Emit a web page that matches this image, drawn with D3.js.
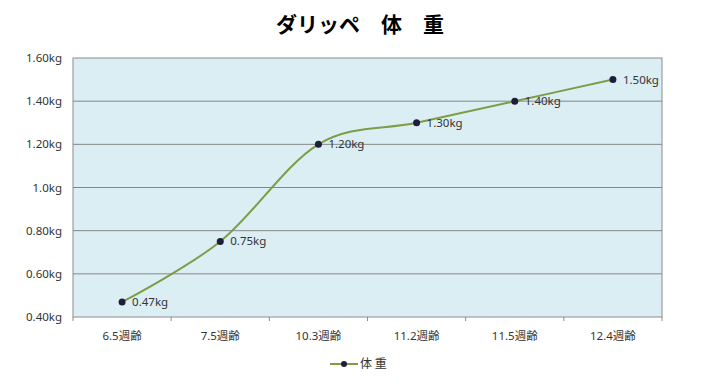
<!DOCTYPE html>
<html>
<head>
<meta charset="utf-8">
<script src="https://cdn.jsdelivr.net/npm/d3@7"></script>
<style>
  body { margin: 0; background: #fff; }
  text { font-family: "Noto Sans", "Noto Sans CJK JP", sans-serif; fill: #333; }
</style>
</head>
<body>
<div id="viz"></div>
<script>
  var categories = ["6.5週齢", "7.5週齢", "10.3週齢", "11.2週齢", "11.5週齢", "12.4週齢"];
  var weights = [0.47, 0.75, 1.20, 1.30, 1.40, 1.50];
  var yTicks = [0.4, 0.6, 0.8, 1.0, 1.2, 1.4, 1.6];
  var yTickLabels = ["0.40kg", "0.60kg", "0.80kg", "1.0kg", "1.20kg", "1.40kg", "1.60kg"];
  var seriesName = "体 重";
  var title = "ダリッペ　体　重";

  var svg = d3.select("#viz").append("svg")
    .attr("width", 720).attr("height", 384);

  var plotL = 73, plotR = 662, plotT = 58, plotB = 317;

  var x = d3.scaleBand().domain(categories).range([plotL, plotR]);
  var y = d3.scaleLinear().domain([0.4, 1.6]).range([plotB, plotT]);

  // plot background
  svg.append("rect")
    .attr("x", plotL).attr("y", plotT)
    .attr("width", plotR - plotL).attr("height", plotB - plotT)
    .style("fill", "#dbeef4").style("stroke", "#8c8c8c");

  // gridlines
  svg.selectAll("line.grid").data(yTicks.slice(1, -1)).enter()
    .append("line").attr("class", "grid")
    .attr("x1", plotL).attr("x2", plotR)
    .attr("y1", function (d) { return y(d); })
    .attr("y2", function (d) { return y(d); })
    .style("stroke", "#868686").style("stroke-width", 1);

  // y axis labels
  svg.selectAll("text.ylab").data(yTicks).enter()
    .append("text").attr("class", "ylab")
    .attr("x", plotL - 11)
    .attr("y", function (d) { return y(d) + 4; })
    .attr("text-anchor", "end")
    .style("font-size", "11.5px")
    .text(function (d, i) { return yTickLabels[i]; });

  // x axis
  var xAxis = d3.axisBottom(x).tickSize(0);
  var gx = svg.append("g").attr("transform", "translate(0," + plotB + ")").call(xAxis);
  gx.select(".domain").remove();
  gx.selectAll("text").attr("dy", "1.7em").style("font-size", "11.5px").style("fill", "#333")
    .style("font-family", "\"Noto Sans\", \"Noto Sans CJK JP\", sans-serif");
  var boundaries = categories.map(function (c) { return x(c); }).concat([plotR]);
  svg.selectAll("line.xtick").data(boundaries).enter()
    .append("line").attr("class", "xtick")
    .attr("x1", function (d) { return d; }).attr("x2", function (d) { return d; })
    .attr("y1", plotB).attr("y2", plotB + 4)
    .style("stroke", "#8c8c8c");

  // line
  var line = d3.line()
    .x(function (d, i) { return x(categories[i]) + x.bandwidth() / 2; })
    .y(function (d) { return y(d); })
    .curve(d3.curveCardinal.tension(0));

  svg.append("path").datum(weights)
    .attr("d", line)
    .style("fill", "none").style("stroke", "#7e9c45").style("stroke-width", 2);

  svg.selectAll("circle.pt").data(weights).enter()
    .append("circle").attr("class", "pt")
    .attr("cx", function (d, i) { return x(categories[i]) + x.bandwidth() / 2; })
    .attr("cy", function (d) { return y(d); })
    .attr("r", 3.5)
    .style("fill", "#1e1e3c");

  svg.selectAll("text.val").data(weights).enter()
    .append("text").attr("class", "val")
    .attr("x", function (d, i) { return x(categories[i]) + x.bandwidth() / 2 + 10; })
    .attr("y", function (d) { return y(d) + 4; })
    .style("font-size", "11.5px")
    .text(function (d) { return d.toFixed(2) + "kg"; });

  // title
  svg.append("text")
    .attr("x", 360).attr("y", 32)
    .attr("text-anchor", "middle")
    .style("font-family", "\"Noto Sans CJK JP\", sans-serif")
    .style("font-weight", "bold")
    .style("font-size", "21px")
    .style("fill", "#000")
    .text(title);

  // legend
  var lg = svg.append("g").attr("transform", "translate(330,364)");
  lg.append("line").attr("x1", 0).attr("x2", 28).attr("y1", 0).attr("y2", 0)
    .style("stroke", "#7e9c45").style("stroke-width", 2);
  lg.append("circle").attr("cx", 14).attr("cy", 0).attr("r", 3).style("fill", "#1e1e3c");
  lg.append("text").attr("x", 30).attr("y", 4)
    .style("font-size", "12px")
    .style("font-family", "\"Noto Sans CJK JP\", sans-serif")
    .text(seriesName);
</script>
</body>
</html>
